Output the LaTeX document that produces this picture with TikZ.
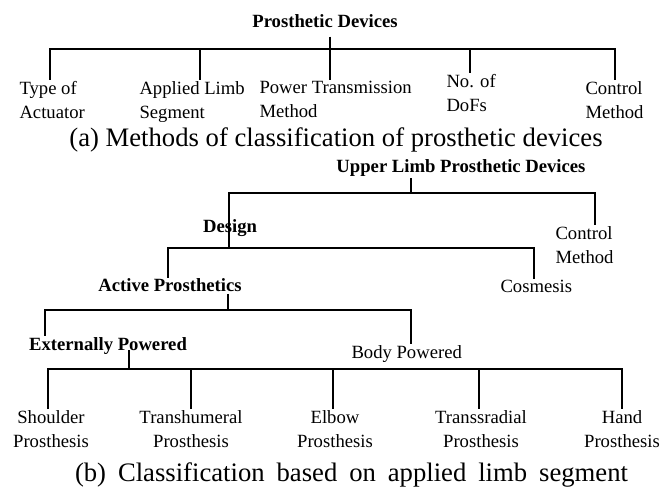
\documentclass[tikz,border=0pt]{standalone}
\usepackage{fontspec}
\setmainfont{Liberation Serif}

\tikzset{every picture/.style={line width=0.75pt}}
\tikzset{
  lbl/.style={inner sep=0.75pt, align=left, font=\fontsize{14}{18}\selectfont},
  lblc/.style={inner sep=0.75pt, align=center, font=\fontsize{14}{18}\selectfont},
  ttl/.style={inner sep=0.75pt, font=\fontsize{14}{18}\selectfont\bfseries},
  captxt/.style={inner sep=0.75pt, font=\fontsize{20}{24}\selectfont},
  tree/.style={line width=2.2pt, line join=miter},
}

\begin{document}
\begin{tikzpicture}[x=0.75pt,y=0.75pt,yscale=-1,xscale=1]
\useasboundingbox (0,0) rectangle (664,488);

%(a) methods of classification
\node[ttl, anchor=base] (pd) at (325,28) {Prosthetic Devices};
\node[lbl, anchor=north west] (toa) at (18,80) {Type of\\Actuator};
\node[lbl, anchor=north west] (als) at (138,80) {Applied Limb\\Segment};
\node[lbl, anchor=north west] (ptm) at (258,80) {Power Transmission\\Method};
\node[lbl, anchor=north west] (dof) at (445,73) {No. of\\DoFs};
\node[lbl, anchor=north west] (ctm) at (584,80) {Control\\Method};
\node[captxt, anchor=base] (capa) at (336,147) {(a) Methods of classification of prosthetic devices};

\coordinate (aL) at (50,49);
\coordinate (aB) at (200,49);
\coordinate (aM) at (330,49);
\coordinate (aD) at (470,49);
\coordinate (aR) at (615,49);

%Straight Lines
\draw[tree] (aL |- toa.north) -- (aL) -- (aR) -- (aR |- ctm.north);
\draw[tree] (aB) -- (aB |- als.north);
\draw[tree] (pd.south -| aM) ++(0,7) -- (aM |- ptm.north);
\draw[tree] (aD) -- (aD |- dof.north);

%(b) applied limb segment
\node[ttl, anchor=base] (ulp) at (461,173) {Upper Limb Prosthetic Devices};
\node[ttl, anchor=base] (dsg) at (230,233) {Design};
\node[lbl, anchor=north west] (ctm2) at (554,225) {Control\\Method};
\node[ttl, anchor=base] (act) at (170,292) {Active Prosthetics};
\node[lbl, anchor=north west] (cos) at (499,279) {Cosmesis};
\node[ttl, anchor=base] (ext) at (108,350) {Externally Powered};
\node[lbl, anchor=north west] (bdy) at (350,344) {Body Powered};
\node[lblc, anchor=north] (sho) at (51,409) {Shoulder\\Prosthesis};
\node[lblc, anchor=north] (thm) at (191,409) {Transhumeral\\Prosthesis};
\node[lblc, anchor=north] (elb) at (335,409) {Elbow\\Prosthesis};
\node[lblc, anchor=north] (trd) at (481,409) {Transsradial\\Prosthesis};
\node[lblc, anchor=north] (hnd) at (622,409) {Hand\\Prosthesis};
\node[captxt, anchor=base] (capb) at (351.5,481) {\makebox[414.75pt][s]{(b) Classification based on applied limb segment}};

\coordinate (b1L) at (229,193);
\coordinate (b1M) at (411,193);
\coordinate (b1R) at (595,193);
\coordinate (b2L) at (168,248);
\coordinate (b2M) at (229,248);
\coordinate (b2R) at (534,248);
\coordinate (b3L) at (45,310);
\coordinate (b3M) at (228,310);
\coordinate (b3R) at (411,310);
\coordinate (b4L) at (48,369);
\coordinate (b4M) at (129,369);
\coordinate (b4T) at (191,369);
\coordinate (b4E) at (333,369);
\coordinate (b4S) at (479,369);
\coordinate (b4R) at (622,369);

%Straight Lines
\draw[tree] (ulp.south -| b1M) -- (b1M);
\draw[tree] (b2M) -- (b1L) -- (b1R) -- (b1R |- ctm2.north);
\draw[tree] (b2L |- act.north) -- (b2L) -- (b2R) -- (b2R |- cos.north);
\draw[tree] (act.base -| b3M) ++(0,2) -- (b3M);
\draw[tree] (b3L |- ext.north) -- (b3L) -- (b3R) -- (b3R |- bdy.north);
\draw[tree] (ext.base -| b4M) -- (b4M);
\draw[tree] (b4L |- sho.north) -- (b4L) -- (b4R) -- (b4R |- hnd.north);
\draw[tree] (b4T) -- (b4T |- thm.north);
\draw[tree] (b4E) -- (b4E |- elb.north);
\draw[tree] (b4S) -- (b4S |- trd.north);

\end{tikzpicture}
\end{document}
